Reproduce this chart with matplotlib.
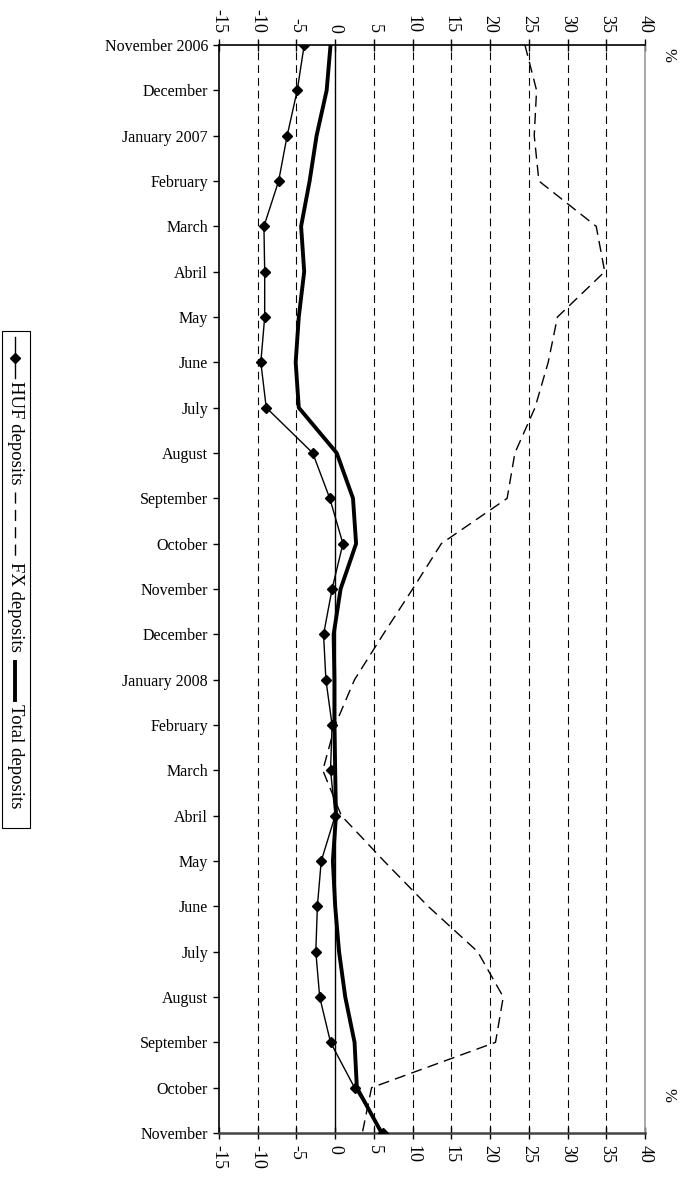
import matplotlib
matplotlib.use('Agg')
import matplotlib.pyplot as plt
import numpy as np
from matplotlib.lines import Line2D
from matplotlib.patches import Rectangle

months = ['November 2006', 'December', 'January 2007', 'February', 'March', 'Abril',
          'May', 'June', 'July', 'August', 'September', 'October', 'November',
          'December', 'January 2008', 'February', 'March', 'Abril', 'May', 'June',
          'July', 'August', 'September', 'October', 'November']
huf = [-4.0, -4.9, -6.2, -7.3, -9.2, -9.1, -9.1, -9.6, -8.9, -2.9, -0.7, 1.0, -0.4,
       -1.5, -1.2, -0.4, -0.6, 0.0, -1.8, -2.3, -2.5, -2.0, -0.6, 2.5, 6.2]
fx = [24.5, 26.0, 25.7, 26.3, 33.7, 34.8, 28.7, 27.5, 25.8, 23.2, 22.2, 13.7, 10.0,
      6.2, 2.5, 0.0, -1.6, 0.8, 6.3, 12.0, 18.4, 21.7, 20.7, 4.7, 3.5]
total = [-0.6, -1.1, -2.4, -3.3, -4.4, -4.0, -4.7, -5.1, -4.7, 0.2, 2.3, 2.7, 0.7,
         -0.2, -0.1, -0.1, 0.0, 0.1, -0.3, 0.0, 0.5, 1.3, 2.5, 2.8, 6.0]
xticks = list(range(-15, 41, 5))

plt.rcParams['font.family'] = ['Liberation Serif', 'DejaVu Serif']

W, H = 682, 1182
fig = plt.figure(figsize=(W / 100, H / 100), dpi=100)
ax = fig.add_axes([219 / W, 1 - 1133 / H, (645 - 219) / W, (1133 - 45) / H])

ind = np.arange(len(months))

# grid and zero line
for v in xticks:
    if v in (-15, 0, 40):
        continue
    ax.axvline(v, color='black', lw=0.8, linestyle=(0, (7, 4.5)), zorder=1)
ax.axvline(0, color='black', lw=1.0, zorder=2)

ax.plot(fx, ind, color='black', lw=1.0, linestyle=(0, (8, 4.5)), zorder=3)
ax.plot(total, ind, color='black', lw=2.8, zorder=4)
ax.plot(huf, ind, color='black', lw=1.0, marker='D', markersize=5, zorder=5)

ax.set_xlim(-15, 40)
ax.set_ylim(len(months) - 1, 0)
ax.set_xticks(xticks)
ax.set_xticklabels([str(v) for v in xticks], rotation=-90, fontsize=13)
ax.tick_params(axis='x', which='both', top=True, bottom=True, labeltop=True,
               labelbottom=True, direction='inout', length=9, width=1, pad=4)
ax.set_yticks(ind)
ax.set_yticklabels(months, fontsize=11.5)
ax.tick_params(axis='y', direction='out', length=4, width=1, pad=4)

ax.spines['top'].set_linewidth(1.2)
ax.spines['bottom'].set_linewidth(1.8)
ax.spines['bottom'].set_color('#444444')
ax.spines['right'].set_color('#999999')
ax.spines['right'].set_linewidth(1.2)
ax.spines['left'].set_linewidth(1.2)

fig.text(668 / W, 1 - 55 / H, '%', rotation=-90, fontsize=12, ha='center', va='center')
fig.text(668 / W, 1 - 1095 / H, '%', rotation=-90, fontsize=12, ha='center', va='center')

# manual rotated legend
def fx_(x):
    return x / W

def fy_(y):
    return 1 - y / H

fig.add_artist(Rectangle((fx_(2), fy_(828)), fx_(28), (828 - 331) / H,
                         transform=fig.transFigure, fill=False, edgecolor='black', lw=0.8))
cx = 15
fig.add_artist(Line2D([fx_(cx)] * 2, [fy_(337), fy_(378)], color='black', lw=1.0,
                      transform=fig.transFigure))
fig.add_artist(Line2D([fx_(cx)], [fy_(358)], color='black', marker='D', markersize=5,
                      transform=fig.transFigure))
fig.text(fx_(cx), fy_(381), 'HUF deposits', rotation=-90, fontsize=13.5,
         ha='center', va='top')
fig.add_artist(Line2D([fx_(cx)] * 2, [fy_(492), fy_(558)], color='black', lw=1.0,
                      linestyle=(0, (8, 4.5)), transform=fig.transFigure))
fig.text(fx_(cx), fy_(562), 'FX deposits', rotation=-90, fontsize=13.5,
         ha='center', va='top')
fig.add_artist(Line2D([fx_(cx)] * 2, [fy_(662), fy_(700)], color='black', lw=2.8,
                      transform=fig.transFigure))
fig.text(fx_(cx), fy_(704), 'Total deposits', rotation=-90, fontsize=13.5,
         ha='center', va='top')

fig.savefig('out.png', dpi=100)
